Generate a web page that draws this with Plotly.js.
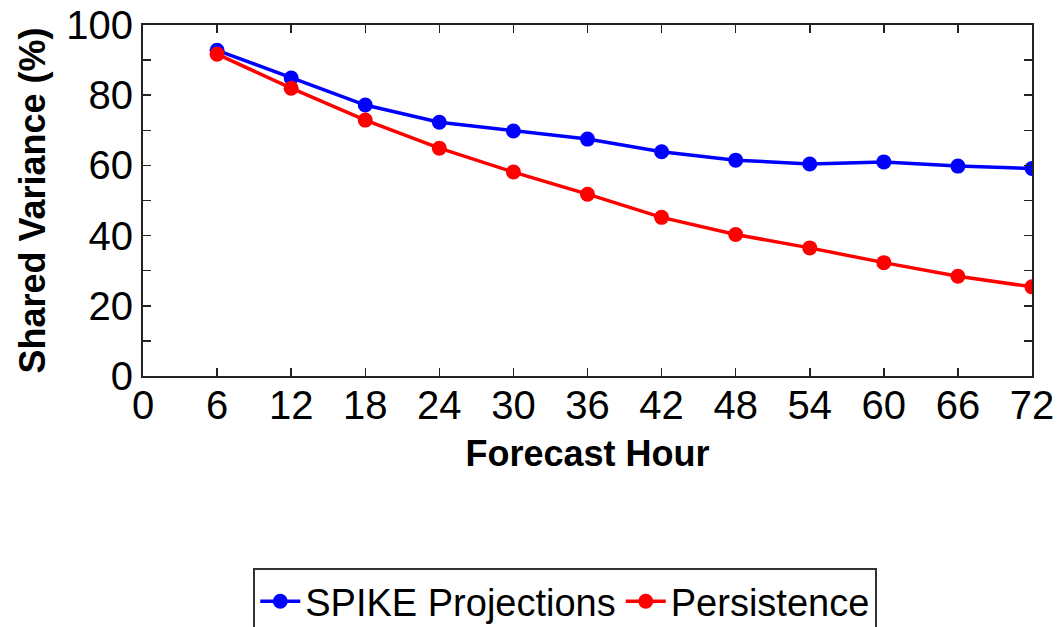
<!DOCTYPE html>
<html>
<head>
<meta charset="utf-8">
<script src="https://cdn.plot.ly/plotly-3.0.1.min.js"></script>
<style>html,body{margin:0;padding:0;background:#fff;}#chart{width:1058px;height:627px;}</style>
</head>
<body>
<div id="chart"></div>
<script>
const forecastHours = [6, 12, 18, 24, 30, 36, 42, 48, 54, 60, 66, 72];
const spikeProjections = [92.8, 84.9, 77.2, 72.3, 69.8, 67.5, 63.9, 61.5, 60.4, 61.0, 59.8, 59.1];
const persistence = [91.7, 82.0, 72.9, 64.9, 58.1, 51.8, 45.2, 40.3, 36.5, 32.3, 28.4, 25.4];
const xTickVals = [0, 6, 12, 18, 24, 30, 36, 42, 48, 54, 60, 66, 72];
const yTickVals = [0, 10, 20, 30, 40, 50, 60, 70, 80, 90, 100];
const yTickText = ['0', '', '20', '', '40', '', '60', '', '80', '', '100'];

const font = "Liberation Sans, Arial, sans-serif";

const traces = [
  {x: forecastHours, y: spikeProjections, name: 'SPIKE Projections', mode: 'lines+markers',
   line: {color: '#0000ff', width: 3.5}, marker: {color: '#0000ff', size: 15, symbol: 'circle'}},
  {x: forecastHours, y: persistence, name: 'Persistence', mode: 'lines+markers',
   line: {color: '#ff0000', width: 3.5}, marker: {color: '#ff0000', size: 15, symbol: 'circle'}}
];

const layout = {
  width: 1058, height: 627,
  margin: {l: 143, r: 26, t: 25, b: 251, autoexpand: false},
  paper_bgcolor: '#fff', plot_bgcolor: '#fff',
  font: {family: font, color: '#000'},
  showlegend: true,
  xaxis: {
    range: [0, 72], tickvals: xTickVals, ticktext: xTickVals.map(String),
    ticks: 'inside', ticklen: 8, tickwidth: 1.5, tickcolor: '#222',
    showline: true, linecolor: '#222', linewidth: 2, mirror: 'ticks',
    showgrid: false, zeroline: false, automargin: false,
    ticklabelstandoff: -7,
    tickfont: {size: 40, family: font},
    title: {text: '<b>Forecast Hour</b>', font: {size: 36, family: font}, standoff: 15}
  },
  yaxis: {
    range: [0, 100], tickvals: yTickVals, ticktext: yTickText,
    ticks: 'inside', ticklen: 8, tickwidth: 1.5, tickcolor: '#222',
    showline: true, linecolor: '#222', linewidth: 2, mirror: 'ticks',
    showgrid: false, zeroline: false, automargin: false,
    tickfont: {size: 40, family: font},
    title: {text: '<b>Shared Variance (%)</b>', font: {size: 36, family: font}, standoff: 10}
  },
  legend: {
    orientation: 'h', x: 0.475, xanchor: 'center', y: -0.547, yanchor: 'top',
    bordercolor: '#333', borderwidth: 2, bgcolor: '#fff',
    font: {size: 38, family: font}, itemwidth: 40
  }
};

Plotly.newPlot('chart', traces, layout, {displayModeBar: false, staticPlot: true});
</script>
</body>
</html>
